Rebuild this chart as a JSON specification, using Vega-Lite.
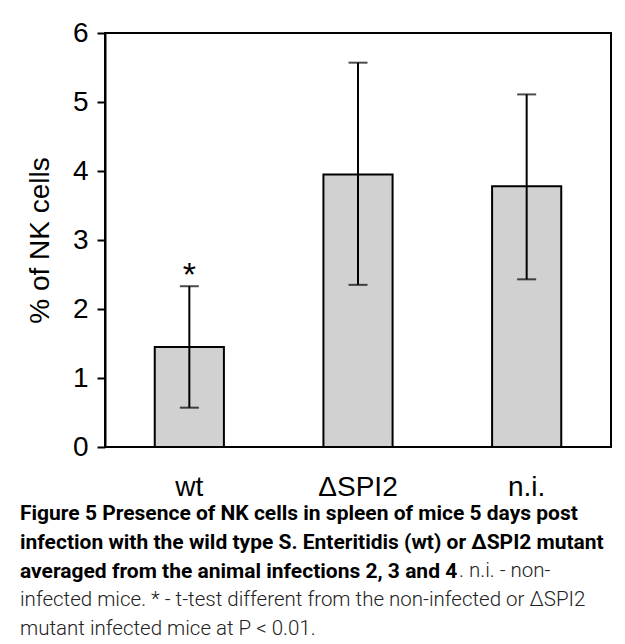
{
  "$schema": "https://vega.github.io/schema/vega-lite/v6.json",
  "autosize": {"type": "none"},
  "width": 506,
  "height": 414,
  "padding": {"left": 105, "top": 33, "right": 14, "bottom": 197},
  "background": "white",
  "config": {
    "view": {"stroke": "black", "strokeWidth": 2},
    "axis": {"labelFont": "Liberation Sans", "titleFont": "Liberation Sans", "labelColor": "black", "titleColor": "black"}
  },
  "title": {
    "text": ["Figure 5 Presence of NK cells in spleen of mice 5 days post", "infection with the wild type S. Enteritidis (wt) or ΔSPI2 mutant", "averaged from the animal infections 2, 3 and 4"],
    "subtitle": ["\u200b\u2003\u2003\u2003\u2003\u2003\u2003\u2003\u2003\u2003\u2003\u2003\u2003\u2003\u2003\u2003\u2003\u2003\u2003\u2003\u2003\u2003. n.i. - non-", "infected mice. * - t-test different from the non-infected or ΔSPI2", "mutant infected mice at P < 0.01."],
    "orient": "bottom",
    "anchor": "start",
    "frame": "group",
    "dx": -85,
    "offset": 2,
    "font": "Roboto",
    "fontSize": 21,
    "fontWeight": "bold",
    "color": "black",
    "lineHeight": 29,
    "subtitleFont": "Roboto",
    "subtitleFontSize": 20.5,
    "subtitleFontWeight": 300,
    "subtitleColor": "#222222",
    "subtitleLineHeight": 29,
    "subtitlePadding": -21
  },
  "data": {
    "values": [
      {"group": "wt", "mean": 1.45, "lo": 0.57, "hi": 2.33, "sig": "*"},
      {"group": "ΔSPI2", "mean": 3.95, "lo": 2.35, "hi": 5.57, "sig": ""},
      {"group": "n.i.", "mean": 3.78, "lo": 2.43, "hi": 5.11, "sig": ""}
    ]
  },
  "encoding": {
    "x": {
      "field": "group", "type": "nominal", "sort": ["wt", "ΔSPI2", "n.i."],
      "scale": {"paddingInner": 0.59, "paddingOuter": 0.295},
      "axis": {"title": null, "labelAngle": 0, "ticks": false, "domain": false, "labelFontSize": 28, "labelPadding": 26}
    }
  },
  "layer": [
    {
      "mark": {"type": "bar", "fill": "#d1d1d1", "stroke": "black", "strokeWidth": 2},
      "encoding": {
        "y": {
          "field": "mean", "type": "quantitative",
          "scale": {"domain": [0, 6], "nice": false},
          "axis": {"values": [0, 1, 2, 3, 4, 5, 6], "format": "d", "grid": false, "tickSize": 8, "tickWidth": 2, "tickColor": "black", "domainColor": "black", "domainWidth": 2, "labelFontSize": 28, "labelPadding": 9, "title": "% of NK cells", "titleFontSize": 28, "titleFontWeight": "normal", "titlePadding": 18}
        }
      }
    },
    {
      "mark": {"type": "rule", "stroke": "black", "strokeWidth": 2},
      "encoding": {"y": {"field": "lo", "type": "quantitative"}, "y2": {"field": "hi"}}
    },
    {
      "mark": {"type": "tick", "color": "black", "size": 19, "thickness": 2},
      "encoding": {"y": {"field": "lo", "type": "quantitative"}}
    },
    {
      "mark": {"type": "tick", "color": "black", "size": 19, "thickness": 2},
      "encoding": {"y": {"field": "hi", "type": "quantitative"}}
    },
    {
      "mark": {"type": "text", "font": "Liberation Sans", "fontSize": 34, "baseline": "top", "dy": -27, "color": "black"},
      "encoding": {"y": {"field": "hi", "type": "quantitative"}, "text": {"field": "sig"}}
    }
  ]
}
